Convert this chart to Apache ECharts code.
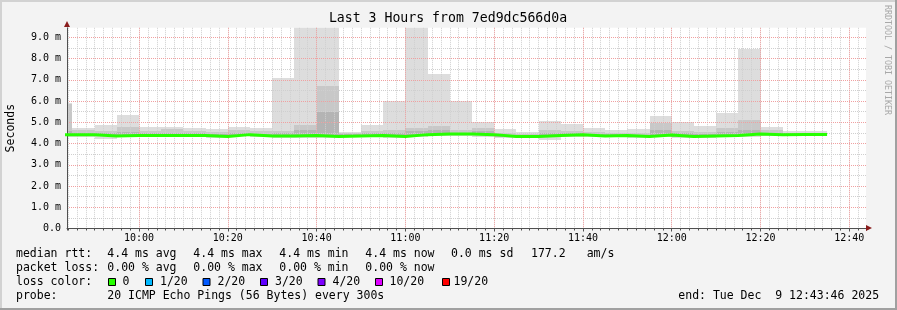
<!DOCTYPE html>
<html>
<head>
<meta charset="utf-8">
<script src="https://cdn.jsdelivr.net/npm/echarts@6/dist/echarts.min.js"></script>
<style>
html,body{margin:0;padding:0;background:#f3f3f3;}
#chart{width:897px;height:310px;}
</style>
</head>
<body>
<div id="chart"></div>
<script>
// ---- data ----
const binStart = ['09:40','09:45','09:50','09:55','10:00','10:05','10:10','10:15','10:20','10:25',
  '10:30','10:35','10:40','10:45','10:50','10:55','11:00','11:05','11:10','11:15',
  '11:20','11:25','11:30','11:35','11:40','11:45','11:50','11:55','12:00','12:05',
  '12:10','12:15','12:20','12:25','12:30'];
const binEndLast = '12:35';
// milliseconds
const smokeMax = [5.90,4.73,4.85,5.33,4.76,4.79,4.71,4.68,4.78,4.71,
  7.10,9.90,9.90,4.54,4.85,5.98,9.90,7.26,5.98,5.00,
  4.68,4.54,5.04,4.90,4.73,4.65,4.68,5.28,5.00,4.81,
  5.42,8.47,4.76,4.57,4.60];
const smokeHi2 = [5.85,4.62,4.57,4.78,4.60,4.68,4.60,4.55,4.62,4.58,
  4.57,4.85,6.69,4.50,4.60,4.66,4.73,4.82,4.62,4.73,
  4.50,4.45,4.62,4.60,4.55,4.52,4.50,4.98,4.57,4.55,
  4.73,5.13,4.62,4.52,4.52];
const smokeHi3 = [4.60,4.50,4.50,4.55,4.48,4.50,4.48,4.45,4.50,4.46,
  4.48,4.62,5.48,4.45,4.48,4.52,4.60,4.62,4.52,4.58,
  4.42,4.40,4.48,4.50,4.45,4.45,4.42,4.66,4.48,4.45,
  4.55,4.63,4.52,4.48,4.48];
const medianRtt = [4.42,4.41,4.35,4.38,4.38,4.38,4.38,4.33,4.42,4.36,
  4.36,4.38,4.33,4.36,4.38,4.33,4.42,4.45,4.45,4.42,
  4.33,4.33,4.38,4.42,4.36,4.38,4.33,4.40,4.33,4.36,
  4.38,4.45,4.42,4.43,4.43];
const smokeMin = [4.30,4.30,4.22,4.30,4.30,4.30,4.32,4.27,4.35,4.30,
  4.28,4.28,4.25,4.30,4.30,4.25,4.33,4.35,4.35,4.33,
  4.27,4.28,4.19,4.33,4.30,4.30,4.27,4.30,4.25,4.28,
  4.30,4.30,4.35,4.38,4.38];
const axisStart = '09:43:46';
const axisEnd = '12:43:46';
const yMax = 9.45;
const lossLabels = ['0','1/20','2/20','3/20','4/20','10/20','19/20'];
const lossColors = ['#26ff00','#00b8ff','#0059ff','#5e00ff','#7e00ff','#dd00ff','#ff0000'];

// ---- helpers ----
function ts(hms){
  const p = hms.split(':').map(Number);
  return new Date(2025, 11, 9, p[0], p[1], p[2] || 0).getTime();
}
const binEdges = binStart.map(ts).concat([ts(binEndLast)]);
function bands(lowArr, highArr){
  return binStart.map((s, i) => [binEdges[i], binEdges[i+1], lowArr[i], highArr[i]]);
}
const MONO = '"DejaVu Sans Mono", monospace';
const RED = '#f0a0a0', GRAY = '#cfcfcf', AXIS = '#505050';

function bandSeries(name, data, color){
  return {
    type: 'custom', name: name, z: 1, xAxisIndex: 0, yAxisIndex: 0,
    encode: {x: [0, 1], y: [2, 3]},
    data: data,
    renderItem: function(params, api){
      const a = api.coord([api.value(0), api.value(3)]);
      const b = api.coord([api.value(1), api.value(2)]);
      const rect = {x: Math.round(a[0]), y: Math.round(a[1]),
        width: Math.round(b[0]) - Math.round(a[0]), height: Math.round(b[1]) - Math.round(a[1])};
      const cs = params.coordSys;
      const c = echarts.graphic.clipRectByRect(rect, {x: cs.x, y: cs.y, width: cs.width, height: cs.height});
      if (!c) return null;
      return {type: 'rect', shape: c, style: {fill: color}};
    }
  };
}

const medianData = binStart.map((s, i) => [binEdges[i], medianRtt[i]]);
medianData.push([binEdges[binEdges.length-1], medianRtt[medianRtt.length-1]]);

function hhmm(v){
  const d = new Date(v);
  return String(d.getHours()).padStart(2,'0') + ':' + String(d.getMinutes()).padStart(2,'0');
}

// ---- legend graphics ----
const g = [];
function txt(x, y, s, extra){
  g.push(Object.assign({type:'text', x:x, y:y, style:{text:s, font:'11.5px ' + MONO, fill:'#000', verticalAlign:'middle', align:'left'}}, extra || {}));
}
// frame
g.push({type:'rect', shape:{x:0,y:0,width:897,height:2}, style:{fill:'#d2d2d2'}});
g.push({type:'rect', shape:{x:0,y:0,width:2,height:310}, style:{fill:'#d2d2d2'}});
g.push({type:'rect', shape:{x:0,y:308,width:897,height:2}, style:{fill:'#a0a0a0'}});
g.push({type:'rect', shape:{x:895,y:0,width:2,height:310}, style:{fill:'#a0a0a0'}});
// axis arrows
g.push({type:'polygon', shape:{points:[[64,27],[70,27],[67,21]]}, style:{fill:'#8a1c1c'}, z:10});
g.push({type:'polygon', shape:{points:[[866,225],[866,231],[872,228]]}, style:{fill:'#8a1c1c'}, z:10});
// title
g.push({type:'text', x:448, y:19, style:{text:'Last 3 Hours from 7ed9dc566d0a', font:'13.2px ' + MONO, fill:'#000', align:'center', verticalAlign:'middle'}});
// watermark
g.push({type:'text', x:887, y:60, rotation:-Math.PI/2, style:{text:'RRDTOOL / TOBI OETIKER', font:'8.3px ' + MONO, fill:'#a8a8a8', align:'center', verticalAlign:'middle'}});
// legend rows
txt(16, 254, 'median rtt:');
txt(107.3, 254, '4.4 ms avg');
txt(193.3, 254, '4.4 ms max');
txt(279.3, 254, '4.4 ms min');
txt(365.3, 254, '4.4 ms now');
txt(451, 254, '0.0 ms sd');
txt(531, 254, '177.2');
txt(586.7, 254, 'am/s');
txt(16, 268, 'packet loss:');
txt(107.3, 268, '0.00 % avg');
txt(193.3, 268, '0.00 % max');
txt(279.3, 268, '0.00 % min');
txt(365.3, 268, '0.00 % now');
txt(16, 282, 'loss color:');
const sqX = [108.5, 145.5, 203, 260.5, 318, 375.5, 442.5];
const lbX = [122.5, 160, 217.5, 275, 332.5, 389.5, 453.5];
lossLabels.forEach((l, i) => {
  g.push({type:'rect', shape:{x:sqX[i], y:278.5, width:7, height:7}, style:{fill:lossColors[i], stroke:'#000', lineWidth:1}});
  txt(lbX[i], 282, l);
});
txt(16, 296.5, 'probe:');
txt(107.3, 296.5, '20 ICMP Echo Pings (56 Bytes) every 300s');
txt(678.3, 296.5, 'end: Tue Dec  9 12:43:46 2025');

const chart = echarts.init(document.getElementById('chart'), null, {renderer:'canvas'});
chart.setOption({
  animation: false,
  backgroundColor: '#f3f3f3',
  grid: {left:67, right:31, top:27.8, bottom:81.5, show:true, backgroundColor:'#ffffff', borderWidth:0,
    containLabel:false, outerBoundsMode:'none'},
  xAxis: [
    {
      type:'time', position:'bottom', min: ts(axisStart), max: ts(axisEnd), z:3,
      minInterval: 300000, maxInterval: 300000,
      axisLine:{show:false}, axisLabel:{show:false},
      axisTick:{show:true, length:2, lineStyle:{color:AXIS}},
      splitLine:{show:true, showMinLine:false, showMaxLine:false, lineStyle:{color:GRAY, width:1, type:[1,1]}}
    },
    {
      type:'time', position:'bottom', min: ts(axisStart), max: ts(axisEnd), z:4,
      minInterval: 1500000, maxInterval: 1500000,
      axisLine:{show:true, lineStyle:{color:AXIS, width:1}},
      axisTick:{show:true, length:3, lineStyle:{color:AXIS}},
      axisLabel:{show:true, showMinLabel:false, showMaxLabel:false, margin:5, formatter: hhmm,
        fontFamily: MONO, fontSize:10, color:'#000'},
      splitLine:{show:true, showMinLine:false, showMaxLine:false, lineStyle:{color:RED, width:1, type:[1,1]}}
    }
  ],
  yAxis: {
    type:'value', min:0, max:yMax, interval:0.5, z:4,
    name:'Seconds', nameLocation:'middle', nameGap:50, nameRotate:90,
    nameTextStyle:{fontFamily:MONO, fontSize:11.5, color:'#000'},
    axisLine:{show:true, lineStyle:{color:AXIS, width:1}},
    axisTick:{show:false},
    axisLabel:{margin:6, fontFamily:MONO, fontSize:10, color:'#000',
      formatter: function(v){ if (Math.abs(v - Math.round(v)) > 1e-9) return ''; return v === 0 ? '0.0' : v.toFixed(1) + ' m'; }},
    splitLine:{show:true, showMaxLine:false, lineStyle:{color:[RED, GRAY], width:1, type:[1,1]}}
  },
  series: [
    bandSeries('min-max', bands(smokeMin, smokeMax), '#dddddd'),
    bandSeries('band2', bands(medianRtt, smokeHi2), '#c8c8c8'),
    bandSeries('band3', bands(medianRtt, smokeHi3), '#b4b4b4'),
    {
      type:'line', name:'median rtt', xAxisIndex:0, yAxisIndex:0, z:6,
      step:'end', showSymbol:false, symbol:'none', data: medianData,
      lineStyle:{color:'#26ff00', width:3}
    }
  ],
  graphic: g
});
</script>
</body>
</html>
